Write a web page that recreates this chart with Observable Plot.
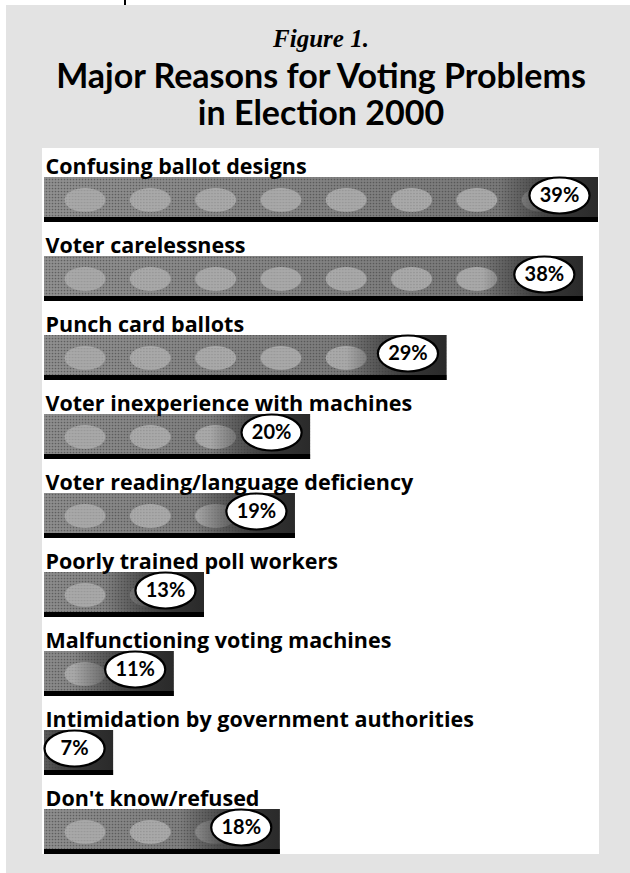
<!DOCTYPE html>
<html>
<head>
<meta charset="utf-8">
<script src="https://cdn.jsdelivr.net/npm/d3@7"></script>
<script src="https://cdn.jsdelivr.net/npm/@observablehq/plot@0.6"></script>
<style>
  html, body { margin: 0; padding: 0; background: #ffffff; }
  body { position: relative; width: 630px; height: 873px; overflow: hidden; }
  #panel { position: absolute; left: 6px; top: 5px; width: 624px; height: 868px; background: #e3e3e3; }
  #tick { position: absolute; left: 124px; top: 0; width: 1.5px; height: 5px; background: #000; }
  .t { position: absolute; left: 0; width: 642px; text-align: center; line-height: 1; white-space: nowrap; color: #000; }
  #fig { top: 25px; font: italic bold 25px "Liberation Serif", serif; }
  #l1 { top: 54px; font: bold 34px Lato, sans-serif; }
  #l2 { top: 91px; font: bold 34px Lato, sans-serif; }
  #chart { position: absolute; left: 42px; top: 148px; }
  #chart svg { display: block; }
</style>
</head>
<body>
<div id="panel"></div>
<div id="tick"></div>
<div class="t" id="fig">Figure 1.</div>
<div class="t" id="l1">Major Reasons for Voting Problems</div>
<div class="t" id="l2">in Election 2000</div>
<div id="chart"></div>
<script>
// ---- data ----
const reasons = [
  "Confusing ballot designs",
  "Voter carelessness",
  "Punch card ballots",
  "Voter inexperience with machines",
  "Voter reading/language deficiency",
  "Poorly trained poll workers",
  "Malfunctioning voting machines",
  "Intimidation by government authorities",
  "Don't know/refused"
];
const percents = [39, 38, 29, 20, 19, 13, 11, 7, 18];

const data = reasons.map((r, i) => ({reason: r, pct: percents[i], label: percents[i] + "%"}));

// ellipse symbol for the percent bubbles
const ellipseSymbol = {
  draw(context, size) {
    const r = Math.sqrt(size / Math.PI);
    const rx = r * 1.67, ry = r, k = 0.5523;
    context.moveTo(rx, 0);
    context.bezierCurveTo(rx, ry * k, rx * k, ry, 0, ry);
    context.bezierCurveTo(-rx * k, ry, -rx, ry * k, -rx, 0);
    context.bezierCurveTo(-rx, -ry * k, -rx * k, -ry, 0, -ry);
    context.bezierCurveTo(rx * k, -ry, rx, -ry * k, rx, 0);
    context.closePath();
  }
};

const chart = Plot.plot({
  width: 557,
  height: 706,
  marginLeft: 2,
  marginRight: 1,
  marginTop: 0,
  marginBottom: 0,
  style: {background: "#ffffff", fontFamily: "'Open Sans', sans-serif", overflow: "visible"},
  x: {domain: [0, 39], range: [-35, 556], axis: null},
  y: {domain: reasons, range: [29, 706], paddingInner: 34 / 79, paddingOuter: 0, align: 0, axis: null},
  marks: [
    // base bar
    Plot.barX(data, {x: "pct", y: "reason", fill: "url(#barGrad)", clip: true}),
    // halftone texture
    Plot.barX(data, {x: "pct", y: "reason", fill: "url(#halftone)", clip: true}),
    // ballot ovals
    Plot.barX(data, {x: "pct", y: "reason", fill: "url(#ovals)", insetBottom: 5, clip: true}),
    // dark right end
    Plot.barX(data, {x1: "pct", x2: "pct", y: "reason", insetLeft: -100, fill: "url(#darkGrad)", clip: true}),
    // black bottom edge
    Plot.barX(data, {x: "pct", y: "reason", insetTop: 40, fill: "#000", clip: true}),
    // category labels
    Plot.text(data, {
      y: "reason", text: "reason", frameAnchor: "left", textAnchor: "start",
      dx: 1, dy: -33, fontSize: 21.5, fontWeight: "bold", fill: "#000"
    }),
    // percent bubbles
    Plot.dot(data, {
      x: "pct", y: "reason", dx: -39, dy: -4.5, r: 18, symbol: ellipseSymbol,
      fill: "#fff", stroke: "#000", strokeWidth: 2.2
    }),
    Plot.text(data, {
      x: "pct", y: "reason", text: "label", dx: -39, dy: -4.5,
      fontSize: 20, fontWeight: "bold", fill: "#000", fontFamily: "Lato, sans-serif"
    })
  ]
});

// defs: gradients and patterns (style only)
const svg = d3.select(chart);
const ys = chart.scale("y");
const step = ys.step;
const firstTop = ys.apply(reasons[0]);
const defs = svg.insert("defs", ":first-child");

const g1 = defs.append("linearGradient").attr("id", "barGrad").attr("x1", 0).attr("x2", 1).attr("y1", 0).attr("y2", 0);
g1.append("stop").attr("offset", 0).attr("stop-color", "#929292");
g1.append("stop").attr("offset", 1).attr("stop-color", "#747474");

const g2 = defs.append("linearGradient").attr("id", "darkGrad").attr("x1", 0).attr("x2", 1).attr("y1", 0).attr("y2", 0);
g2.append("stop").attr("offset", 0).attr("stop-color", "#3a3a3a").attr("stop-opacity", 0);
g2.append("stop").attr("offset", 0.45).attr("stop-color", "#3a3a3a").attr("stop-opacity", 0.8);
g2.append("stop").attr("offset", 0.7).attr("stop-color", "#333").attr("stop-opacity", 1);
g2.append("stop").attr("offset", 1).attr("stop-color", "#2a2a2a").attr("stop-opacity", 1);

const ht = defs.append("pattern").attr("id", "halftone").attr("patternUnits", "userSpaceOnUse")
  .attr("x", 0).attr("y", 0).attr("width", 3).attr("height", 3);
ht.append("circle").attr("cx", 1.5).attr("cy", 1.5).attr("r", 0.85).attr("fill", "#404040").attr("fill-opacity", 0.6);

const ov = defs.append("pattern").attr("id", "ovals").attr("patternUnits", "userSpaceOnUse")
  .attr("x", 2).attr("y", firstTop).attr("width", 65.3).attr("height", step);
ov.append("ellipse").attr("cx", 41).attr("cy", 23).attr("rx", 20.5).attr("ry", 12).attr("fill", "#a9a9a9");
ov.append("ellipse").attr("cx", 41).attr("cy", 23).attr("rx", 20.5).attr("ry", 12).attr("fill", "url(#halftone)").attr("opacity", 0.3);

document.getElementById("chart").appendChild(chart);
</script>
</body>
</html>
